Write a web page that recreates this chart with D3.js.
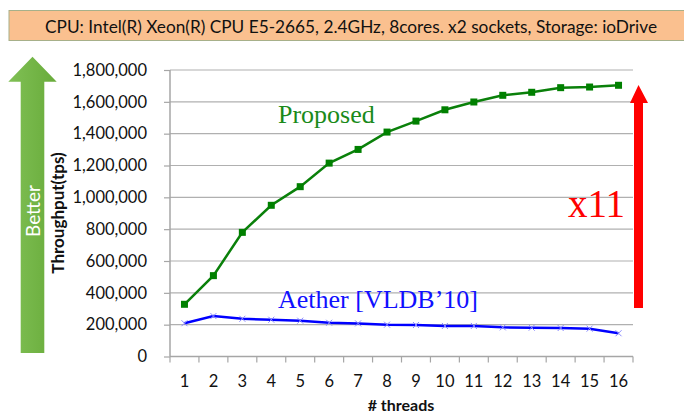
<!DOCTYPE html>
<html><head><meta charset="utf-8">
<script src="https://cdn.jsdelivr.net/npm/d3@7"></script>
<style>html,body{margin:0;padding:0;background:#fff;overflow:hidden}</style>
</head><body>
<svg id="c" width="684" height="412"></svg>
<script>
const threads = [1,2,3,4,5,6,7,8,9,10,11,12,13,14,15,16];
const proposed = [328000,508000,780000,950000,1067000,1215000,1301000,1410000,1479000,1550000,1599000,1641000,1660000,1689000,1693000,1704000];
const aether = [209000,254000,237000,231000,225000,212000,208000,200000,198000,192000,192000,183000,181000,179000,175000,146000];
const yTicks = [0,200000,400000,600000,800000,1000000,1200000,1400000,1600000,1800000];
const headerText = "CPU: Intel(R) Xeon(R) CPU E5-2665, 2.4GHz, 8cores. x2 sockets, Storage: ioDrive";

const svg = d3.select("#c");
const sans = "Lato, 'Open Sans', sans-serif";
const serif = "'Liberation Serif', 'DejaVu Serif', serif";

// header
svg.append("rect").attr("x",9).attr("y",10.5).attr("width",700).attr("height",30)
  .attr("fill","#fac08f").attr("stroke","#a7b08a").attr("stroke-width",1);
svg.append("text").attr("x",45).attr("y",33).attr("font-family",sans).attr("font-size",18)
  .attr("textLength",612).attr("lengthAdjust","spacingAndGlyphs").attr("fill","#111").text(headerText);

const x = d3.scaleBand().domain(threads).range([170,633]);
const y = d3.scaleLinear().domain([0,1800000]).range([356.5,70]);

// gridlines
svg.append("g").selectAll("line").data(yTicks.filter(d=>d>0)).join("line")
  .attr("x1",170).attr("x2",633).attr("y1",d=>y(d)).attr("y2",d=>y(d))
  .attr("stroke","#b0b0b0").attr("stroke-width",1.2);

// y axis
const ya = svg.append("g").attr("transform","translate(170,0)")
  .call(d3.axisLeft(y).tickValues(yTicks).tickFormat(d3.format(",")).tickSize(6).tickPadding(17));
ya.select(".domain").attr("stroke","#a6a6a6").attr("stroke-width",1.5).attr("d","M0,70V356.5");
ya.selectAll(".tick line").attr("stroke","#a6a6a6").attr("stroke-width",1.2);
ya.selectAll("text").attr("font-family",sans).attr("font-size",16.5).attr("fill","#111");

// x axis
const xa = svg.append("g").attr("transform","translate(0,356.5)")
  .call(d3.axisBottom(x).tickSize(0).tickPadding(19));
xa.select(".domain").attr("stroke","#a6a6a6").attr("stroke-width",1.5).attr("d","M170,0H633");
xa.selectAll("text").attr("font-family",sans).attr("font-size",16.5).attr("fill","#111");
const bounds = threads.map(t=>x(t)).concat([x.range()[1]]);
xa.selectAll(".bt").data(bounds).join("line").attr("class","bt")
  .attr("x1",d=>d).attr("x2",d=>d).attr("y1",0).attr("y2",6)
  .attr("stroke","#a6a6a6").attr("stroke-width",1.2);

const cx = d => x(d) + x.bandwidth()/2;

// proposed line
const line = d3.line().x((d,i)=>cx(threads[i])).y(d=>y(d));
svg.append("path").datum(proposed).attr("d",line).attr("fill","none")
  .attr("stroke","#0a800a").attr("stroke-width",2.5);
svg.append("g").selectAll("rect").data(proposed).join("rect")
  .attr("x",(d,i)=>cx(threads[i])-3.5).attr("y",d=>y(d)-3.5).attr("width",7).attr("height",7)
  .attr("fill","#008000");

// aether line
svg.append("path").datum(aether).attr("d",line).attr("fill","none")
  .attr("stroke","#0000ff").attr("stroke-width",2.5);
svg.append("g").selectAll("path").data(aether).join("path")
  .attr("d",(d,i)=>{const px=cx(threads[i]),py=y(d),s=3;return `M${px-s},${py-s}L${px+s},${py+s}M${px-s},${py+s}L${px+s},${py-s}`;})
  .attr("stroke","#8a8aff").attr("stroke-width",1);

// labels
svg.append("text").attr("x",278).attr("y",123).attr("font-family",serif).attr("font-size",26)
  .attr("fill","#1a8a1a").text("Proposed");
svg.append("text").attr("x",278).attr("y",308).attr("font-family",serif).attr("font-size",26)
  .attr("fill","#1010ff").text("Aether [VLDB\u201910]");
svg.append("text").attr("x",568).attr("y",217).attr("font-family",serif).attr("font-size",39)
  .attr("fill","#ff0000").text("x11");

// red arrow
svg.append("path").attr("d","M634,308V103H630L638.5,85L648,103H643V308Z").attr("fill","#ff0000");

// green arrow
const defs = svg.append("defs");
const g = defs.append("linearGradient").attr("id","gg").attr("x1","0").attr("x2","1");
g.append("stop").attr("offset","0").attr("stop-color","#80c055");
g.append("stop").attr("offset","1").attr("stop-color","#68ab3a");
svg.append("path").attr("d","M20.7,353V81.7H8.3L32.5,56.7L56.7,81.7H44.3V353Z").attr("fill","url(#gg)");
svg.append("text").attr("transform","translate(40,211) rotate(-90)").attr("text-anchor","middle")
  .attr("font-family",sans).attr("font-size",19).attr("fill","#fff").text("Better");

// axis titles
svg.append("text").attr("transform","translate(64,213) rotate(-90)").attr("text-anchor","middle")
  .attr("font-family",sans).attr("font-weight","bold").attr("font-size",17).attr("fill","#111").text("Throughput(tps)");
svg.append("text").attr("x",401).attr("y",411).attr("text-anchor","middle")
  .attr("font-family",sans).attr("font-weight","bold").attr("font-size",16).attr("fill","#111").text("# threads");
</script>
</body></html>
